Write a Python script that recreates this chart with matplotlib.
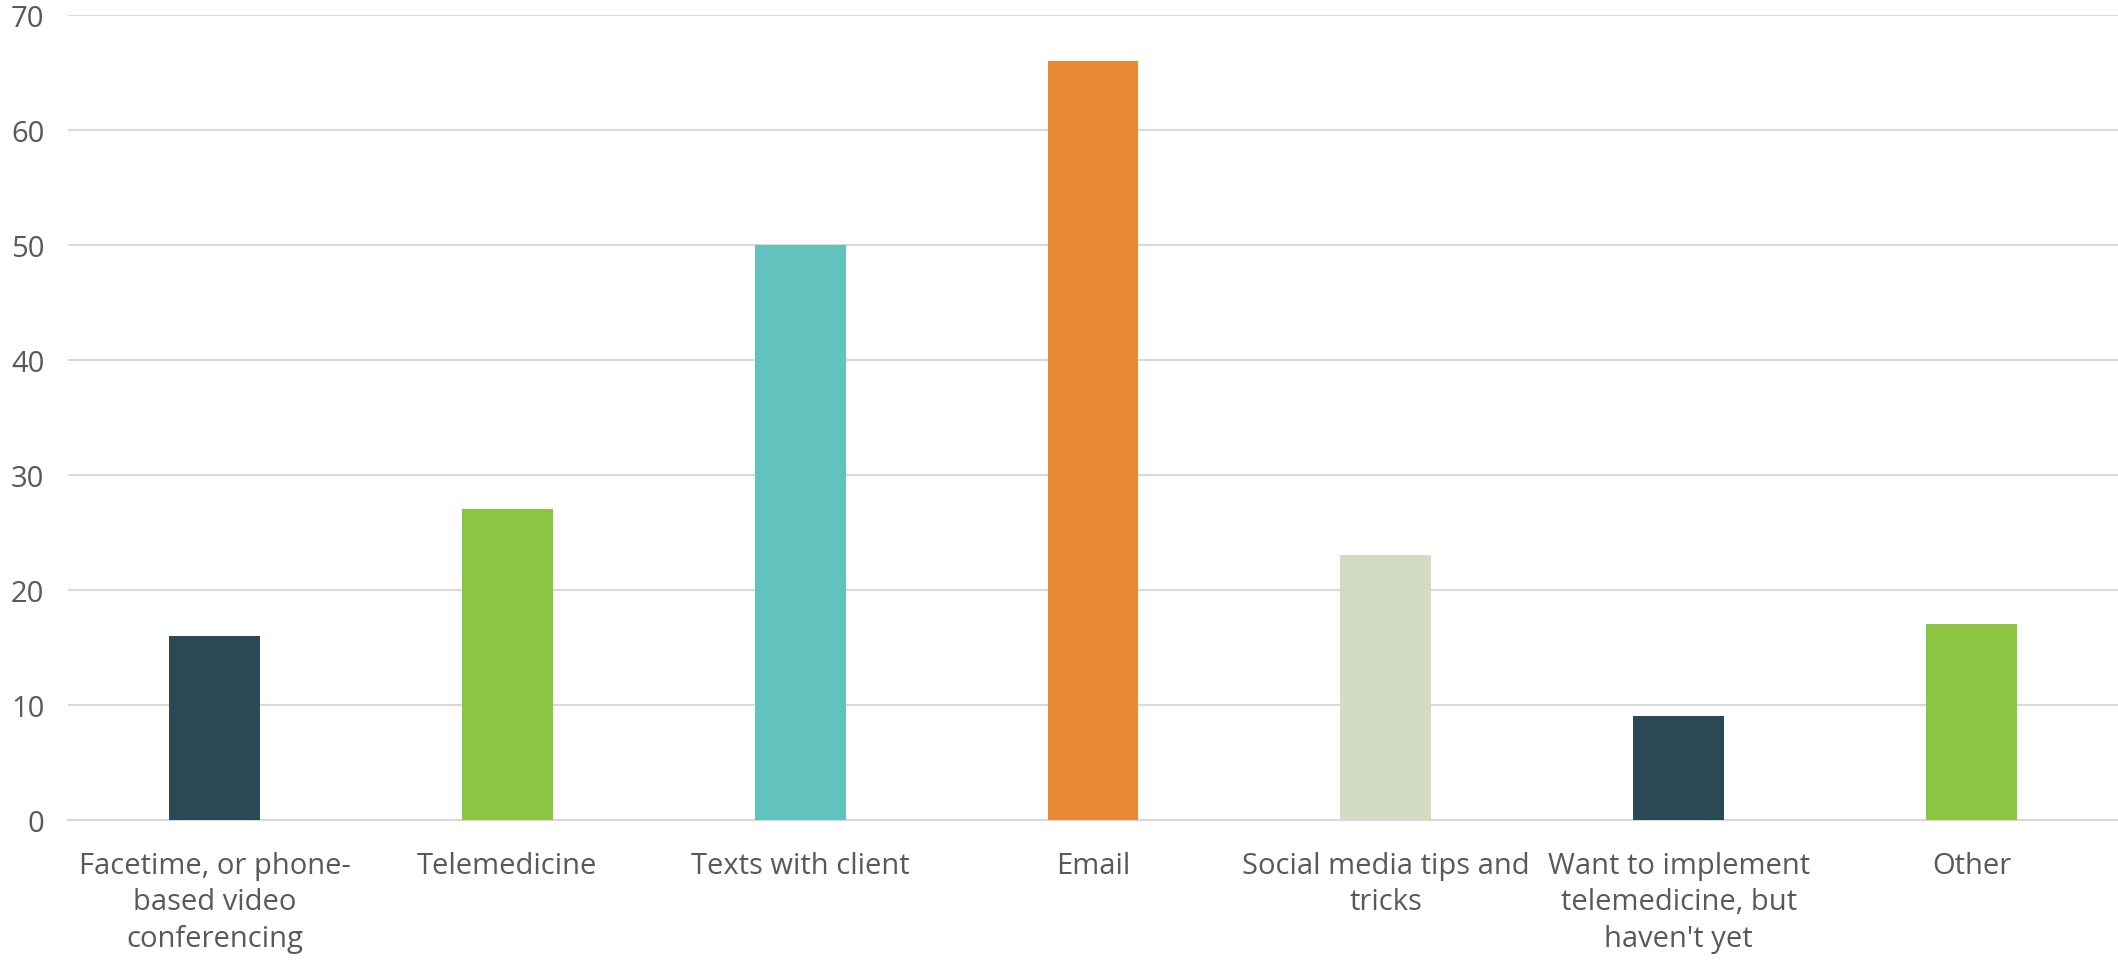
import matplotlib.pyplot as plt

categories = ['Facetime, or phone-\nbased video\nconferencing', 'Telemedicine', 'Texts with client',
              'Email', 'Social media tips and\ntricks', 'Want to implement\ntelemedicine, but\nhaven\'t yet', 'Other']
values = [16, 27, 50, 66, 23, 9, 17]
colors = ['#294A55', '#8BC541', '#62C2BD', '#EB8833', '#D3DBC3', '#294A55', '#8BC541']

plt.rcParams['font.family'] = ['Open Sans', 'DejaVu Sans']

fig = plt.figure(figsize=(21.18, 9.62), dpi=100)
ax = fig.add_axes([0.0321, 0.1466, 0.9679, 0.8368])

x = range(len(values))
ax.bar(x, values, width=0.31, color=colors, zorder=3)

ax.set_xlim(-0.5, len(values) - 0.5)
ax.set_ylim(0, 70)
ax.set_yticks(range(0, 71, 10))
ax.set_xticks(list(x))
ax.set_xticklabels(categories, fontsize=21, color='#595959', linespacing=1.35, va='top')
ax.tick_params(axis='y', labelsize=21, labelcolor='#595959', length=0, pad=17)
ax.tick_params(axis='x', length=0, pad=22)

ax.grid(axis='y', color='#D9D9D9', linewidth=1.5, zorder=0)
for s in ['top', 'right', 'left']:
    ax.spines[s].set_visible(False)
ax.spines['bottom'].set_color('#D9D9D9')
ax.spines['bottom'].set_linewidth(1.5)

fig.savefig('out.png', dpi=100)
